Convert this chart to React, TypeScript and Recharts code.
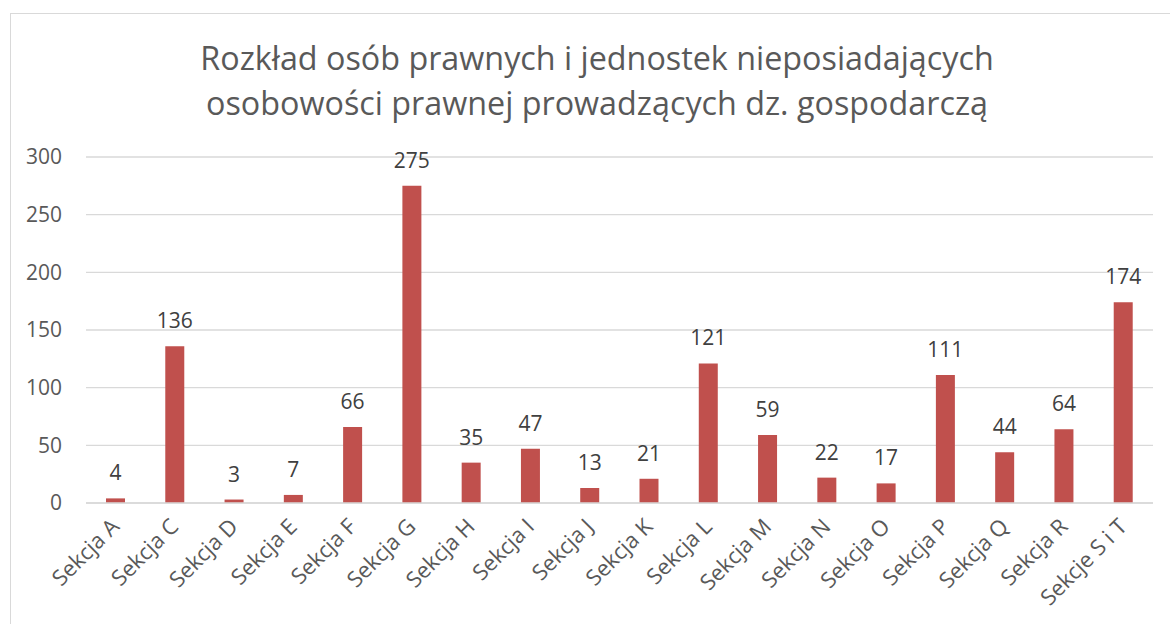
import React from "react";
import { BarChart, Bar, XAxis, YAxis, CartesianGrid, LabelList } from "recharts";

const categories = [
  "Sekcja A", "Sekcja C", "Sekcja D", "Sekcja E", "Sekcja F", "Sekcja G",
  "Sekcja H", "Sekcja I", "Sekcja J", "Sekcja K", "Sekcja L", "Sekcja M",
  "Sekcja N", "Sekcja O", "Sekcja P", "Sekcja Q", "Sekcja R", "Sekcje S i T",
];
const values = [4, 136, 3, 7, 66, 275, 35, 47, 13, 21, 121, 59, 22, 17, 111, 44, 64, 174];
const yTicks = [0, 50, 100, 150, 200, 250, 300];
const titleLines = [
  "Rozkład osób prawnych i jednostek nieposiadających",
  "osobowości prawnej prowadzących dz. gospodarczą",
];

const data = categories.map((name, i) => ({ name, value: values[i] }));

const FONT = "'Open Sans', sans-serif";

const XTick = (props: any) => {
  const { x, y, payload } = props;
  const ax = x + 5;
  const ay = y + 17;
  return (
    <text
      x={ax}
      y={ay}
      transform={`rotate(-45 ${ax} ${ay})`}
      textAnchor="end"
      fill="#595959"
      fontSize={22}
      fontFamily={FONT}
    >
      {payload.value}
    </text>
  );
};

export default function App() {
  return (
    <div
      style={{
        position: "absolute",
        left: 10,
        top: 13,
        width: 1160,
        height: 611,
        borderLeft: "1px solid #d9d9d9",
        borderTop: "1px solid #d9d9d9",
        background: "#fff",
        fontFamily: FONT,
      }}
    >
      <div
        style={{
          position: "absolute",
          left: 0,
          top: 21,
          width: 1172,
          textAlign: "center",
          color: "#595959",
          fontSize: 32.3,
          lineHeight: "45px",
        }}
      >
        {titleLines.map((t) => (
          <div key={t}>{t}</div>
        ))}
      </div>
      <div style={{ position: "absolute", left: 0, top: 0 }}>
        <BarChart
          width={1160}
          height={611}
          data={data}
          margin={{ top: 143, right: 18, bottom: 0, left: 0 }}
        >
          <CartesianGrid vertical={false} stroke="#d9d9d9" strokeWidth={1.3} />
          <XAxis
            dataKey="name"
            interval={0}
            tick={<XTick />}
            tickLine={false}
            axisLine={{ stroke: "#d9d9d9", strokeWidth: 1.3 }}
            height={122}
          />
          <YAxis
            width={75}
            domain={[0, 300]}
            ticks={yTicks}
            tickLine={false}
            axisLine={false}
            tickSize={0}
            tickMargin={24}
            tick={{ fill: "#595959", fontSize: 21, fontFamily: FONT }}
          />
          <Bar dataKey="value" fill="#C0504D" barSize={19} isAnimationActive={false}>
            <LabelList
              dataKey="value"
              position="top"
              offset={18}
              fill="#404040"
              fontSize={21}
              fontFamily={FONT}
            />
          </Bar>
        </BarChart>
      </div>
    </div>
  );
}
